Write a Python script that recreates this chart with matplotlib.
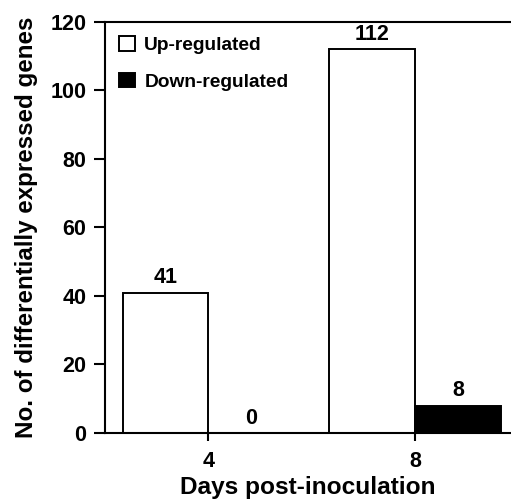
import matplotlib.pyplot as plt
import numpy as np

plt.rcParams['font.family'] = ['Liberation Sans', 'DejaVu Sans']
plt.rcParams['font.weight'] = 'bold'

days = ["4", "8"]
up_regulated = [41, 112]
down_regulated = [0, 8]

fig = plt.figure(figsize=(5.11, 5.03), dpi=100)
ax = fig.add_axes([0.2055, 0.1392, 0.7945, 0.8171])

x = np.arange(len(days))
w = 0.415
b1 = ax.bar(x - w / 2, up_regulated, w, color='white', edgecolor='black',
            linewidth=1.4, label='Up-regulated')
b2 = ax.bar(x + w / 2, down_regulated, w, color='black', edgecolor='black',
            linewidth=1.4, label='Down-regulated')
ax.bar_label(b1, padding=3, fontsize=15.5, fontweight='bold')
ax.bar_label(b2, padding=3, fontsize=15.5, fontweight='bold')

ax.set_xlim(-0.5, 1.464)
ax.set_ylim(0, 120)
ax.set_yticks(range(0, 121, 20))
ax.set_xticks(x)
ax.set_xticklabels(days)

ax.spines['right'].set_visible(False)
for s in ['left', 'bottom', 'top']:
    ax.spines[s].set_linewidth(1.5)
ax.tick_params(direction='out', width=1.5, labelsize=15.5)
ax.tick_params(axis='y', length=8, pad=5.5)
ax.tick_params(axis='x', length=6, pad=7)

ax.set_xlabel("Days post-inoculation", fontsize=17.6, fontweight='bold', labelpad=3)
ax.set_ylabel("No. of differentially expressed genes", fontsize=17.4, fontweight='bold', labelpad=9)

leg = ax.legend(loc='upper left', frameon=False, fontsize=13.8, handlelength=0.8,
                handleheight=0.8, handletextpad=0.5, labelspacing=0.95,
                borderaxespad=0.35)

fig.savefig("out.png", dpi=100)
